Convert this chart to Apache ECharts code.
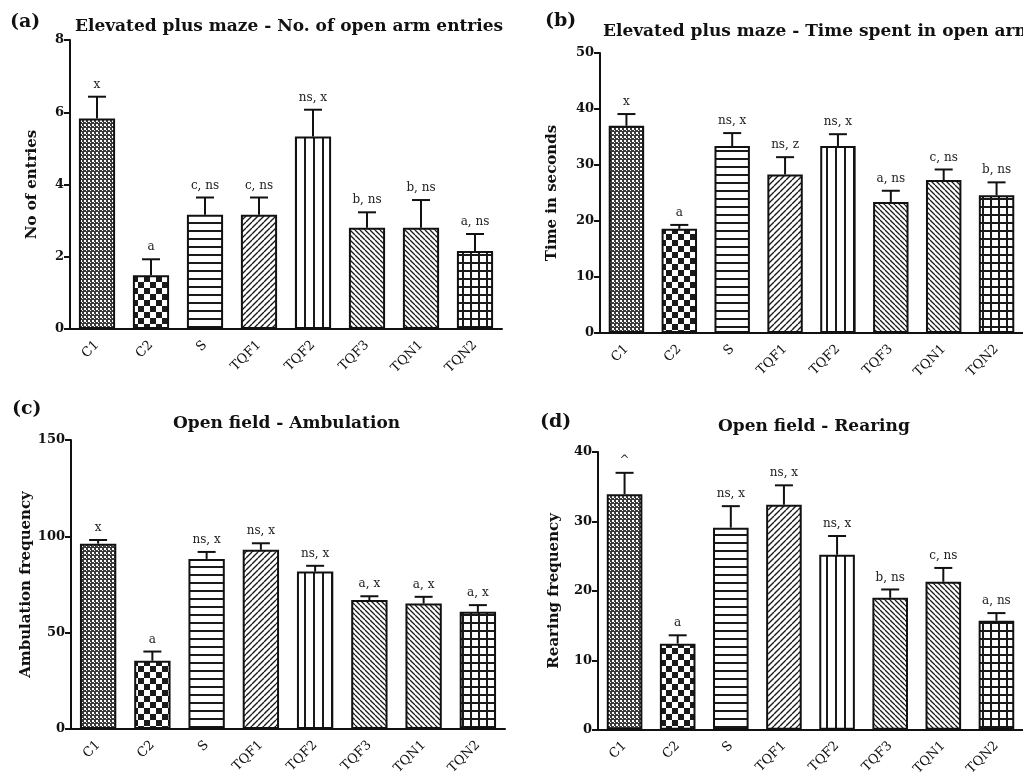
<!DOCTYPE html>
<html>
<head>
<meta charset="utf-8">
<script src="https://cdn.jsdelivr.net/npm/echarts@6/dist/echarts.min.js"></script>
<style>html,body{margin:0;padding:0;background:#fff;}#chart{width:1023px;height:778px;}</style>
</head>
<body>
<div id="chart"></div>
<script>
// ---- data ----
const categories = ['C1', 'C2', 'S', 'TQF1', 'TQF2', 'TQF3', 'TQN1', 'TQN2'];

const meanA = [5.83, 1.49, 3.16, 3.16, 5.33, 2.80, 2.80, 2.16];
const semA  = [0.60, 0.44, 0.48, 0.48, 0.74, 0.43, 0.77, 0.47];
const labelsA = ['x', 'a', 'c, ns', 'c, ns', 'ns, x', 'b, ns', 'b, ns', 'a, ns'];

const meanB = [37.0, 18.6, 33.4, 28.3, 33.4, 23.4, 27.3, 24.6];
const semB  = [2.1, 0.7, 2.3, 3.1, 2.1, 2.0, 1.9, 2.3];
const labelsB = ['x', 'a', 'ns, x', 'ns, z', 'ns, x', 'a, ns', 'c, ns', 'b, ns'];

const meanC = [96.2, 35.4, 88.3, 93.0, 81.7, 66.9, 65.1, 60.8];
const semC  = [1.9, 4.8, 3.6, 3.4, 3.0, 2.0, 3.5, 3.5];
const labelsC = ['x', 'a', 'ns, x', 'ns, x', 'ns, x', 'a, x', 'a, x', 'a, x'];

const meanD = [33.9, 12.4, 29.1, 32.4, 25.2, 19.0, 21.3, 15.7];
const semD  = [3.1, 1.2, 3.1, 2.8, 2.7, 1.2, 2.0, 1.1];
const labelsD = ['^', 'a', 'ns, x', 'ns, x', 'ns, x', 'b, ns', 'c, ns', 'a, ns'];

const yMax = [8, 50, 150, 40];
const yInterval = [2, 10, 50, 10];
const titles = ['Elevated plus maze - No. of open arm entries', 'Elevated plus maze - Time spent in open arm',
                'Open field - Ambulation', 'Open field - Rearing'];
const panelTags = ['(a)', '(b)', '(c)', '(d)'];
const yNames = ['No of entries', 'Time in seconds', 'Ambulation frequency', 'Rearing frequency'];

// ---- patterns ----
function mk(w, h, draw) {
  const c = document.createElement('canvas');
  c.width = w; c.height = h;
  const g = c.getContext('2d');
  g.fillStyle = '#fff'; g.fillRect(0, 0, w, h);
  draw(g, w, h);
  return { image: c, repeat: 'repeat' };
}
const INK = '#1a1a1a';
const patterns = [
  mk(4, 4, (g) => { g.fillStyle = '#3a3a3a'; g.fillRect(0, 0, 4, 4); g.fillStyle = '#fff'; g.fillRect(0, 0, 2, 2); g.fillRect(2, 2, 1, 1); }),
  mk(12, 12, (g) => { g.fillStyle = INK; g.fillRect(0, 0, 6, 6); g.fillRect(6, 6, 6, 6); }),
  mk(8, 8, (g) => { g.fillStyle = INK; g.fillRect(0, 6, 8, 2); }),
  mk(6, 6, (g, w, h) => { g.strokeStyle = INK; g.lineWidth = 1.4; g.beginPath();
      for (const k of [-w, 0, w]) { g.moveTo(k, h); g.lineTo(k + w, 0); } g.stroke(); }),
  mk(9, 9, (g) => { g.fillStyle = INK; g.fillRect(7, 0, 2, 9); }),
  mk(5, 5, (g, w, h) => { g.strokeStyle = INK; g.lineWidth = 1.3; g.beginPath();
      for (const k of [-w, 0, w]) { g.moveTo(k, 0); g.lineTo(k + w, h); } g.stroke(); }),
  mk(5, 5, (g, w, h) => { g.strokeStyle = INK; g.lineWidth = 1.3; g.beginPath();
      for (const k of [-w, 0, w]) { g.moveTo(k, 0); g.lineTo(k + w, h); } g.stroke(); }),
  mk(8, 8, (g) => { g.fillStyle = INK; g.fillRect(0, 6, 8, 2); g.fillRect(6, 0, 2, 8); })
];

const means = [meanA, meanB, meanC, meanD];
const sems = [semA, semB, semC, semD];
const labels = [labelsA, labelsB, labelsC, labelsD];

const grids = [
  { left: 70, top: 40, width: 432, height: 289 },
  { left: 600, top: 53, width: 433, height: 280 },
  { left: 71, top: 440, width: 434, height: 289 },
  { left: 598, top: 452, width: 433, height: 280 }
];
const nameGaps = [30, 40, 36, 36];
const titlePos = [[75, 18], [603, 23], [173, 415], [718, 418]];
const tagPos = [[10, 13], [545, 12], [12, 400], [540, 413]];

const SERIF = '"DejaVu Serif", "Liberation Serif", serif';

const xAxes = [], yAxes = [], series = [], titleArr = [];
grids.forEach((gr, i) => {
  xAxes.push({
    type: 'category', gridIndex: i, data: categories,
    axisLine: { lineStyle: { color: '#111', width: 2 } },
    axisTick: { alignWithLabel: true, length: 6, lineStyle: { color: '#111', width: 2 } },
    axisLabel: { rotate: 45, margin: 14, color: '#111', fontFamily: SERIF, fontSize: 13 }
  });
  yAxes.push({
    type: 'value', gridIndex: i, min: 0, max: yMax[i], interval: yInterval[i],
    name: yNames[i], nameLocation: 'middle', nameGap: nameGaps[i], nameRotate: 90,
    nameTextStyle: { fontFamily: SERIF, fontWeight: 'bold', fontSize: 15, color: '#111' },
    axisLine: { show: true, lineStyle: { color: '#111', width: 2 } },
    axisTick: { show: true, length: 6, lineStyle: { color: '#111', width: 2 } },
    splitLine: { show: false },
    axisLabel: { color: '#111', fontFamily: SERIF, fontWeight: 'bold', fontSize: 13, margin: 6 }
  });
  series.push({
    type: 'bar', xAxisIndex: i, yAxisIndex: i, barWidth: '67%',
    data: means[i].map((v, k) => ({ value: v, itemStyle: { color: patterns[k] } })),
    itemStyle: { borderColor: '#111', borderWidth: 2 },
    silent: true, animation: false
  });
  series.push({
    type: 'custom', xAxisIndex: i, yAxisIndex: i, animation: false, silent: true, z: 5,
    data: means[i].map((v, k) => [k, v, v + sems[i][k], labels[i][k]]),
    renderItem: (params, api) => {
      const b = api.coord([api.value(0), api.value(1)]);
      const t = api.coord([api.value(0), api.value(2)]);
      const lab = labels[i][params.dataIndex];
      return {
        type: 'group',
        children: [
          { type: 'line', shape: { x1: b[0], y1: b[1], x2: t[0], y2: t[1] }, style: { stroke: '#111', lineWidth: 2 } },
          { type: 'line', shape: { x1: t[0] - 9, y1: t[1], x2: t[0] + 9, y2: t[1] }, style: { stroke: '#111', lineWidth: 2 } },
          { type: 'text', x: t[0], y: t[1] - 6, style: { text: lab, fill: '#222', font: '12px ' + SERIF, align: 'center', verticalAlign: 'bottom' } }
        ]
      };
    }
  });
  titleArr.push({ text: titles[i], left: titlePos[i][0], top: titlePos[i][1], padding: 0,
    textStyle: { fontFamily: SERIF, fontWeight: 'bold', fontSize: 17, color: '#111' } });
  titleArr.push({ text: panelTags[i], left: tagPos[i][0], top: tagPos[i][1], padding: 0,
    textStyle: { fontFamily: SERIF, fontWeight: 'bold', fontSize: 19, color: '#111' } });
});

const chart = echarts.init(document.getElementById('chart'), null, { renderer: 'canvas' });
chart.setOption({
  backgroundColor: '#fff',
  animation: false,
  title: titleArr,
  grid: grids,
  xAxis: xAxes,
  yAxis: yAxes,
  series: series
});
</script>
</body>
</html>
